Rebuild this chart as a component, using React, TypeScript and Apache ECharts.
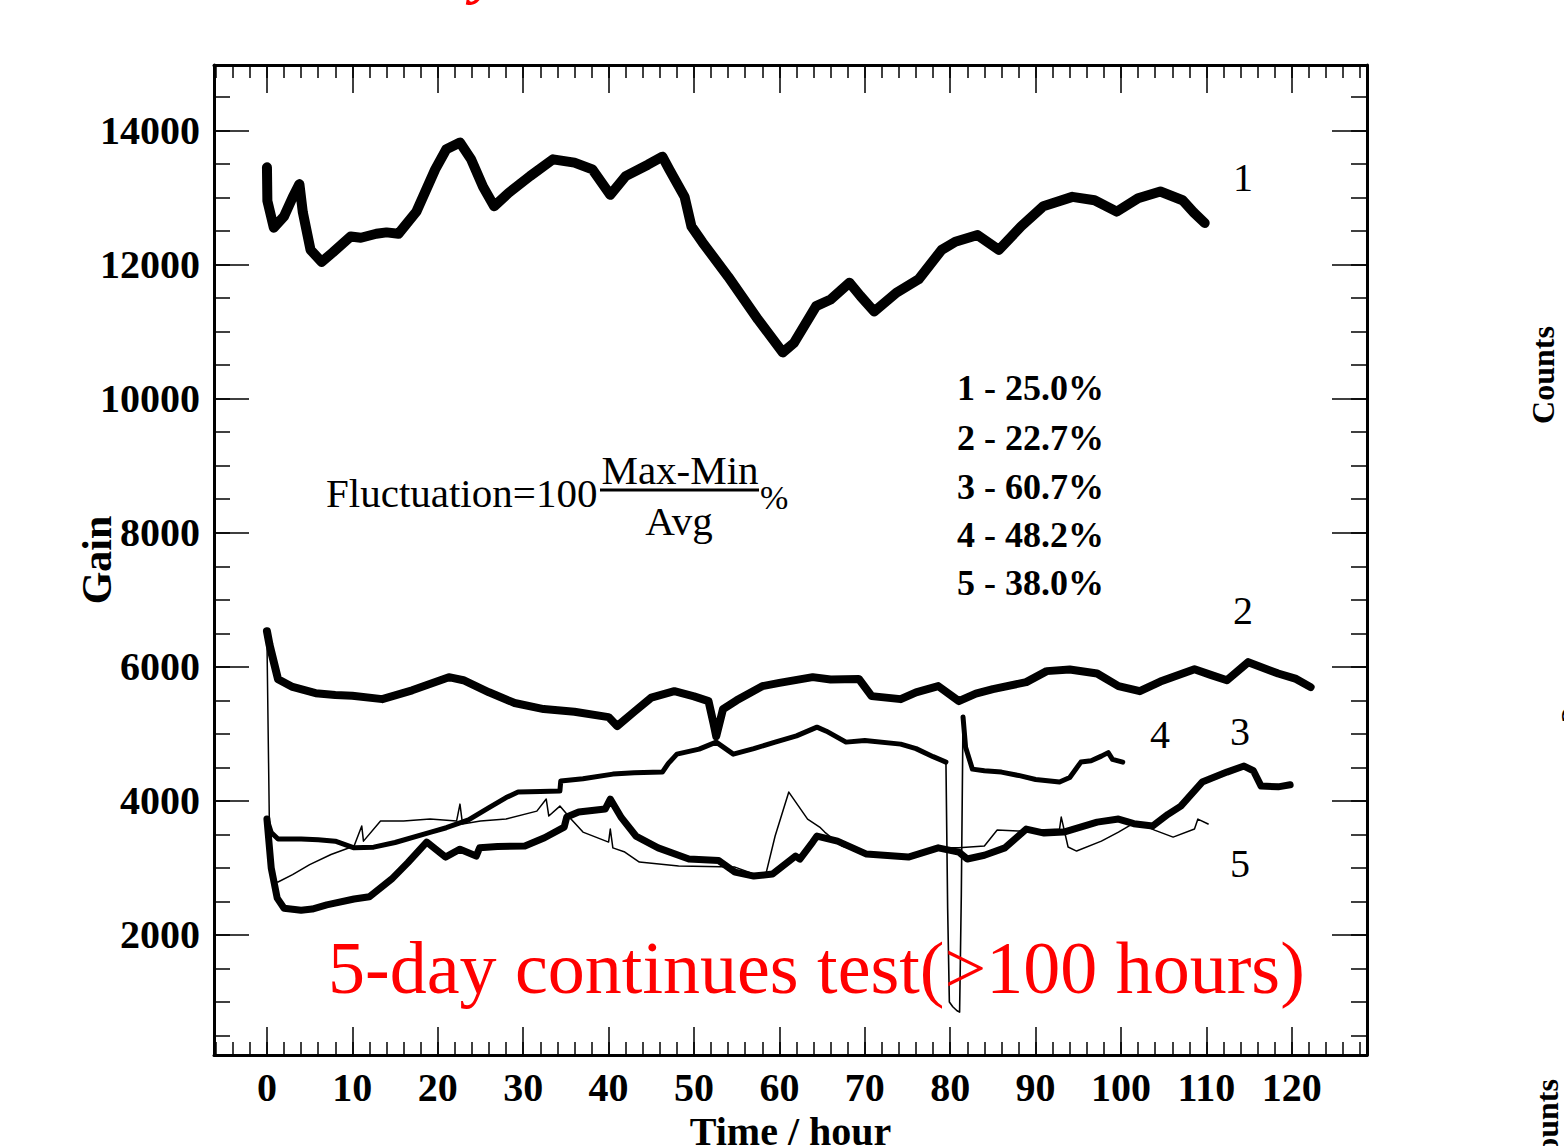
import React, { useEffect, useRef } from 'react';
import * as echarts from 'echarts';

// ---- data (hours, gain) ----
const series1: [number, number][] = [
  [0, 13450], [0.05, 12950], [0.8, 12550], [2, 12720], [3, 13000], [3.8, 13200], [4.2, 12780], [5.1, 12220],
  [6.4, 12040], [7.7, 12180], [9.8, 12420], [11, 12400], [12.8, 12460], [14, 12480], [15.4, 12460], [17.5, 12790],
  [19.7, 13420], [21, 13720], [22.6, 13820], [23.9, 13570], [25.3, 13160], [26.6, 12870], [28.3, 13070], [30.8, 13320],
  [33.5, 13570], [36, 13520], [38.1, 13420], [40.2, 13040], [42, 13320], [44.6, 13490], [46.3, 13610], [47.1, 13420],
  [48.9, 13010], [49.7, 12570], [51, 12330], [54, 11820], [57.5, 11180], [60.4, 10690], [61.7, 10830], [64.3, 11380],
  [66, 11480], [68.2, 11730], [69.5, 11530], [71.1, 11300], [73.7, 11580], [76.3, 11780], [79, 12220], [80.6, 12340],
  [83.2, 12440], [85.7, 12220], [88.3, 12570], [90.9, 12870], [94.3, 13010], [96.9, 12960], [99.5, 12790], [102, 12990],
  [104.6, 13090], [107.2, 12960], [108.5, 12780], [109.8, 12620],
];
const series2: [number, number][] = [
  [0, 6530], [0.3, 6330], [1.3, 5816], [3, 5700], [5.7, 5607], [8, 5580], [10, 5570], [13.5, 5518], [17, 5650],
  [21.3, 5846], [23, 5800], [26, 5620], [29, 5460], [32.4, 5370], [36, 5330], [40, 5250], [41, 5116], [43, 5330],
  [45, 5540], [47.7, 5637], [50, 5560], [51.7, 5489], [52.3, 5150], [52.6, 4965], [53.4, 5370], [55, 5500], [58, 5712],
  [60, 5760], [63.9, 5846], [66, 5810], [69.3, 5820], [70.8, 5563], [74.2, 5518], [76, 5620], [78.6, 5712], [81, 5489],
  [83, 5600], [85, 5667], [88.9, 5772], [91.3, 5936], [94, 5960], [97.2, 5900], [99.7, 5712], [102.2, 5637],
  [104.6, 5780], [108.6, 5965], [110.5, 5880], [112.4, 5800], [114.9, 6070], [118.4, 5900], [120.5, 5820], [122.2, 5697],
];
const series3: [number, number][] = [
  [0, 3729], [0.5, 3000], [1.2, 2550], [2, 2400], [4, 2370], [5.3, 2387], [7, 2450], [10.2, 2537], [12, 2570],
  [14.6, 2834], [16.5, 3080], [18.7, 3386], [20.9, 3162], [22.6, 3280], [24.5, 3177], [24.9, 3300], [27, 3320],
  [30.2, 3327], [32.5, 3450], [34.8, 3610], [35.1, 3759], [36.5, 3834], [39.6, 3878], [40.2, 4028], [41.5, 3750],
  [43.2, 3476], [45.8, 3300], [49.4, 3133], [52.9, 3110], [54.8, 2938], [57, 2879], [59.2, 2910], [61.9, 3177],
  [62.4, 3133], [63.9, 3386], [64.4, 3476], [66.8, 3400], [70.2, 3207], [75.1, 3162], [78.6, 3300], [81, 3237],
  [82, 3133], [84, 3190], [86.4, 3300], [88.9, 3580], [91, 3520], [93.3, 3535], [97.2, 3684], [99.7, 3729],
  [101.5, 3660], [103.7, 3625], [105.5, 3800], [107, 3923], [109.5, 4281], [112.4, 4430], [114.4, 4520],
  [115.5, 4450], [116.4, 4221], [118.4, 4210], [119.8, 4240],
];
const series4Before: [number, number][] = [
  [0, 3729], [0.5, 3530], [1.3, 3431], [4, 3431], [6, 3420], [8, 3400], [10.2, 3300], [12.5, 3310], [15, 3380],
  [19.2, 3535], [21, 3600], [23.6, 3718], [26, 3900], [28, 4050], [29.4, 4132], [32, 4140], [34.3, 4147], [34.4, 4296],
  [37, 4330], [40.5, 4400], [43, 4420], [46.3, 4430], [47, 4560], [48, 4698], [50.6, 4773], [52.6, 4877], [54.6, 4698],
  [57, 4780], [59.5, 4877], [62, 4970], [64.4, 5100], [65.5, 5040], [67.8, 4877], [70, 4900], [74.2, 4847], [76, 4780],
  [78, 4660], [79.5, 4579],
];
const series4Drop: [number, number][] = [
  [79.5, 4579], [79.7, 2400], [79.9, 1000], [80.3, 930], [80.8, 870], [81.1, 850], [81.3, 2600], [81.5, 5252],
];
const series4After: [number, number][] = [
  [81.5, 5252], [81.8, 4800], [82.6, 4474], [84, 4450], [86, 4430], [88, 4380], [90, 4320], [92.8, 4281], [94, 4350],
  [95.3, 4579], [96.5, 4600], [97.7, 4668], [98.5, 4720], [99, 4620], [100.2, 4579],
];
const series5: [number, number][] = [
  [0, 6400], [0.3, 3500], [0.6, 2790], [1.3, 2790], [3, 2900], [5, 3050], [7.5, 3200], [10.2, 3327], [11.1, 3625],
  [11.3, 3400], [13.3, 3700], [16, 3700], [19.1, 3729], [22.2, 3700], [22.6, 3952], [22.9, 3655], [25, 3700], [28, 3729],
  [31.6, 3848], [32.7, 4028], [33, 3774], [34.3, 3923], [35.6, 3729], [37, 3535], [40, 3386], [40.2, 3580], [40.5, 3300],
  [41.9, 3237], [43.6, 3088], [48.2, 3028], [54.8, 3013], [57, 2910], [58.4, 2900], [59.5, 3476], [61.1, 4132],
  [63.3, 3729], [64.8, 3600], [65.3, 3535], [67.3, 3327], [70.2, 3207], [75.1, 3180], [78.1, 3300], [81, 3300],
  [84, 3327], [85.5, 3565], [88, 3550], [92.8, 3580], [93, 3759], [93.8, 3312], [94.8, 3252], [97.7, 3400],
  [99.7, 3535], [101.7, 3684], [104, 3560], [106.1, 3460], [108.6, 3580], [109, 3729], [110.2, 3655],
];

const fluctuationLabels = ['1 - 25.0%', '2 - 22.7%', '3 - 60.7%', '4 - 48.2%', '5 - 38.0%'];
const curveNames = ['1', '2', '3', '4', '5'];

const X_MIN = -6.2;
const X_MAX = 128.8;
const Y_MIN = 210;
const Y_MAX = 14977;

const SERIF = '"Liberation Serif", "Times New Roman", serif';

function isMultiple(v: number, step: number) {
  return Math.abs(v / step - Math.round(v / step)) < 1e-6;
}

export default function App() {
  const ref = useRef<HTMLDivElement>(null);

  useEffect(() => {
    if (!ref.current) return;
    const chart = echarts.init(ref.current, undefined, { renderer: 'svg' });

    const majorX = (position: 'top' | 'bottom', labels: boolean) => ({
      type: 'value',
      gridIndex: 0,
      position,
      min: X_MIN,
      max: X_MAX,
      splitNumber: 13,
      minInterval: 10,
      maxInterval: 10,
      axisLine: { show: true, onZero: false, lineStyle: { color: '#000', width: 3 } },
      axisTick: { show: true, inside: true, length: 28, lineStyle: { color: '#000', width: 1.5 } },
      axisLabel: labels
        ? {
            show: true,
            margin: 12,
            fontFamily: SERIF,
            fontWeight: 'bold',
            fontSize: 40,
            color: '#000',
            formatter: (v: number) => (isMultiple(v, 10) ? String(Math.round(v)) : ''),
          }
        : { show: false },
      splitLine: { show: false },
      ...(labels
        ? {
            name: 'Time / hour',
            nameLocation: 'middle',
            nameGap: 56,
            nameMoveOverlap: false,
            nameTextStyle: { fontFamily: SERIF, fontWeight: 'bold', fontSize: 40, color: '#000' },
          }
        : {}),
    });
    const minorX = (position: 'top' | 'bottom') => ({
      type: 'value',
      gridIndex: 0,
      position,
      min: X_MIN,
      max: X_MAX,
      splitNumber: 60,
      minInterval: 2,
      maxInterval: 2,
      axisLine: { show: false, onZero: false },
      axisTick: { show: true, inside: true, length: 13, lineStyle: { color: '#000', width: 1.5 } },
      axisLabel: { show: false },
      splitLine: { show: false },
    });
    const majorY = (position: 'left' | 'right', labels: boolean) => ({
      type: 'value',
      gridIndex: 0,
      position,
      min: Y_MIN,
      max: Y_MAX,
      splitNumber: 7,
      minInterval: 2000,
      maxInterval: 2000,
      axisLine: { show: true, onZero: false, lineStyle: { color: '#000', width: 3 } },
      axisTick: { show: true, inside: true, length: 35, lineStyle: { color: '#000', width: 1.5 } },
      axisLabel: labels
        ? {
            show: true,
            margin: 14,
            fontFamily: SERIF,
            fontWeight: 'bold',
            fontSize: 40,
            color: '#000',
            formatter: (v: number) => (isMultiple(v, 2000) ? String(Math.round(v)) : ''),
          }
        : { show: false },
      splitLine: { show: false },
      ...(labels
        ? {
            name: 'Gain',
            nameLocation: 'middle',
            nameGap: 96,
            nameMoveOverlap: false,
            nameTextStyle: { fontFamily: SERIF, fontWeight: 'bold', fontSize: 42, color: '#000' },
          }
        : {}),
    });
    const minorY = (position: 'left' | 'right') => ({
      type: 'value',
      gridIndex: 0,
      position,
      min: Y_MIN,
      max: Y_MAX,
      splitNumber: 30,
      minInterval: 500,
      maxInterval: 500,
      axisLine: { show: false, onZero: false },
      axisTick: { show: true, inside: true, length: 16, lineStyle: { color: '#000', width: 1.5 } },
      axisLabel: { show: false },
      splitLine: { show: false },
    });

    const line = (name: string, data: [number, number][], width: number, z = 3) => ({
      name,
      type: 'line',
      xAxisIndex: 0,
      yAxisIndex: 0,
      data,
      showSymbol: false,
      symbol: 'none',
      smooth: false,
      z,
      lineStyle: { color: '#000', width, join: 'round', cap: 'round' },
    });

    const text = (t: string, x: number, y: number, size: number, opts: any = {}) => ({
      type: 'text',
      x,
      y,
      z: 100,
      rotation: opts.rotation || 0,
      style: {
        text: t,
        fontFamily: SERIF,
        fontSize: size,
        fontWeight: opts.bold ? 'bold' : 'normal',
        fontStyle: opts.italic ? 'italic' : 'normal',
        fill: opts.color || '#000',
        align: opts.align || 'left',
        verticalAlign: opts.valign || 'middle',
      },
    });

    const statY = [388, 438, 487, 535, 583];
    const curvePos: [number, number][] = [
      [1243, 177],
      [1243, 610],
      [1240, 731],
      [1160, 734],
      [1240, 863],
    ];

    chart.setOption({
      animation: false,
      backgroundColor: '#fff',
      grid: { left: 214, right: 197, top: 65, bottom: 91, containLabel: false, outerBoundsMode: 'none' },
      xAxis: [majorX('bottom', true), minorX('bottom'), majorX('top', false), minorX('top')],
      yAxis: [majorY('left', true), minorY('left'), majorY('right', false), minorY('right')],
      series: [
        line('1', series1, 10, 4),
        line('2', series2, 8),
        line('3', series3, 7),
        line('4', series4Before, 5),
        line('4-drop', series4Drop, 1.6),
        line('4-after', series4After, 5),
        line('5', series5, 1.5),
      ],
      graphic: [
        text('Fluctuation=100', 326, 493, 41),
        text('Max-Min', 680, 470, 41, { align: 'center' }),
        { type: 'line', z: 100, shape: { x1: 600, y1: 490, x2: 759, y2: 490 }, style: { stroke: '#000', lineWidth: 3 } },
        text('Avg', 679, 521, 41, { align: 'center' }),
        text('%', 760, 497, 34),
        ...fluctuationLabels.map((s, i) => text(s, 957, statY[i], 36, { bold: true })),
        ...curveNames.map((s, i) => text(s, curvePos[i][0], curvePos[i][1], 40, { align: 'center' })),
        text('5-day continues test(>100 hours)', 328, 968, 74, { color: '#ff0000' }),
        text('Counts', 1543, 375, 32, { bold: true, align: 'center', rotation: Math.PI / 2 }),
        text('Counts', 1547, 1128, 32, { bold: true, align: 'center', rotation: Math.PI / 2 }),
        text('2', 1572, 715, 32, { bold: true, align: 'center', rotation: Math.PI / 2 }),
        text('y', 472, -60, 62, { bold: true, italic: true, color: '#ff0000', valign: 'top' }),
      ],
    });

    return () => chart.dispose();
  }, []);

  return (
    <div
      ref={ref}
      style={{ position: 'absolute', left: 0, top: 0, width: 1564, height: 1146, background: '#fff' }}
    />
  );
}
